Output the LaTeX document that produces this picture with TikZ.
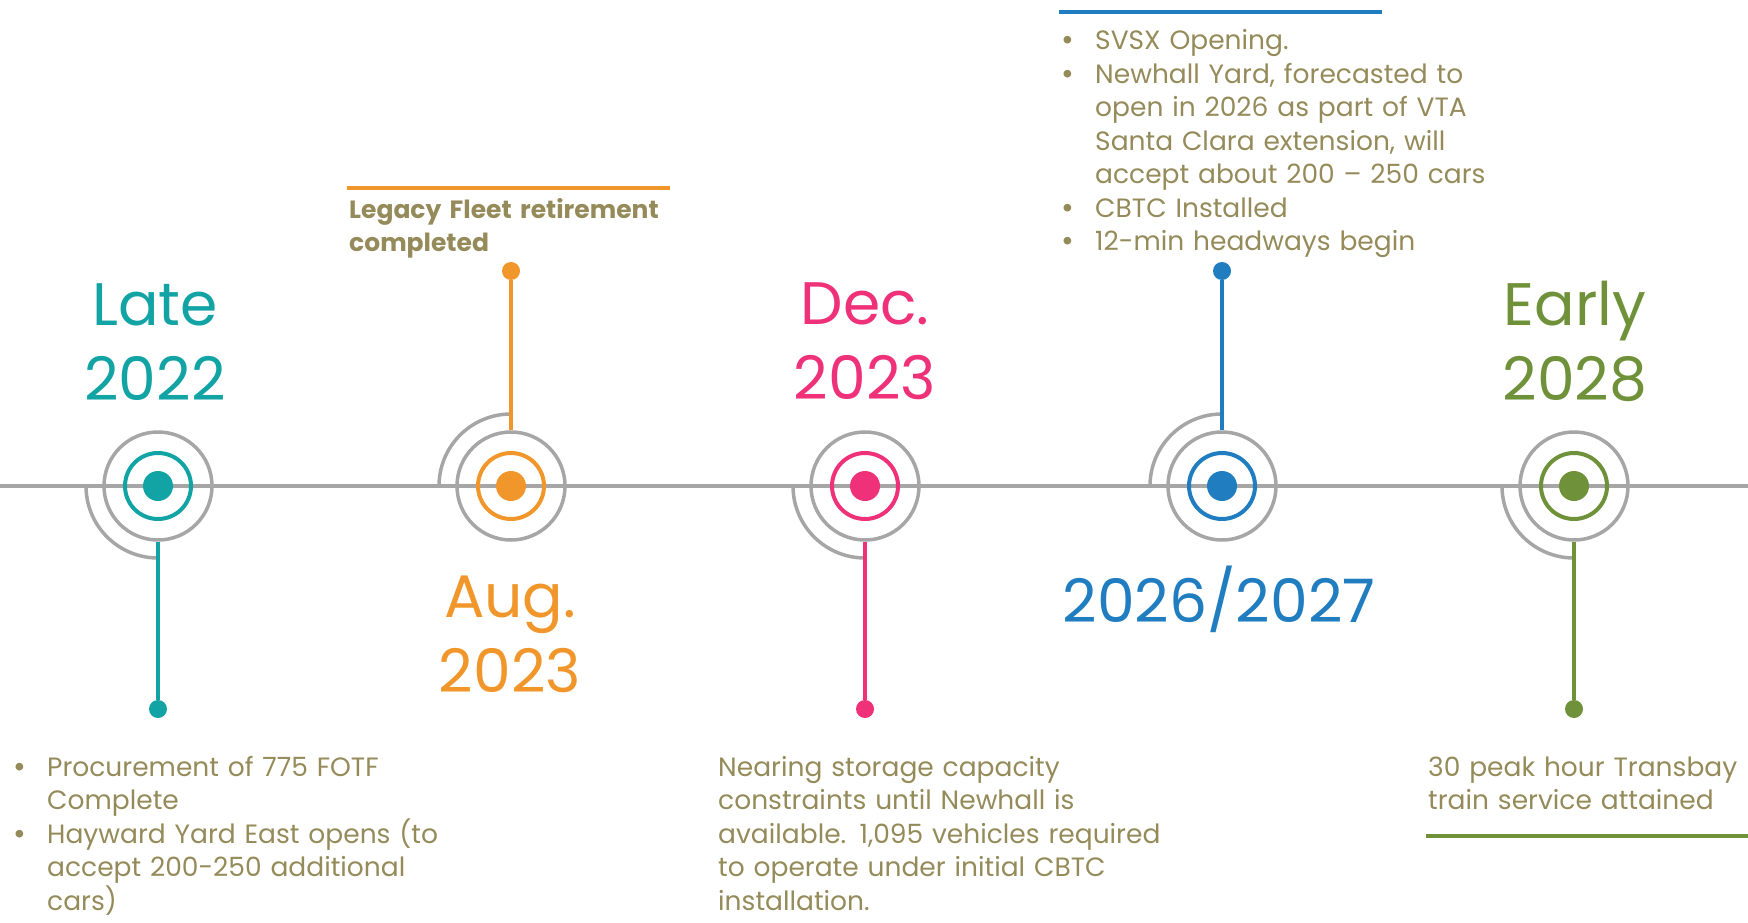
\documentclass[tikz,border=0pt]{standalone}
\usepackage{fontspec}
\setmainfont{Poppins}
\definecolor{lgray}{HTML}{A6A6A6}
\definecolor{cteal}{HTML}{12A3A4}
\definecolor{corange}{HTML}{F0962A}
\definecolor{cpink}{HTML}{EE3179}
\definecolor{cblue}{HTML}{1F7DC0}
\definecolor{cgreen}{HTML}{6F9139}
\definecolor{olive}{HTML}{958B5A}
\newcommand\bul{\makebox[34pt][l]{\raisebox{-1pt}{\fontsize{31}{31}\selectfont\textbullet}}}
\newcommand\ind{\hspace*{34pt}}
\begin{document}
\begin{tikzpicture}[x=1pt,y=-1pt,
  tline/.style={draw=lgray, line width=3.5pt},
  arcline/.style={draw=lgray, line width=3.5pt},
  cdot/.style={circle, fill=#1, minimum size=30pt, inner sep=0pt},
  cring/.style={circle, draw=#1, line width=4pt, minimum size=66pt, inner sep=0pt},
  gring/.style={circle, draw=lgray, line width=3.5pt, minimum size=108pt, inner sep=0pt},
  edot/.style={circle, fill=#1, minimum size=18pt, inner sep=0pt},
  stem/.style={draw=#1, line width=4pt},
  hbar/.style={draw=#1, line width=4pt},
  year/.style={text=#1, font=\fontsize{60}{75}\selectfont, text width=400pt, align=center, anchor=base, inner sep=0pt},
  body/.style={text=olive, font=\fontsize{26.5}{33.5}\selectfont, text width=#1, align=left, anchor=base west, inner sep=0pt},
]
\useasboundingbox (0,0) rectangle (1748,923);
% timeline
\coordinate (L) at (0,486);
\coordinate (R) at (1748,486);
\draw[tline] (L) -- (R);
% quarter arcs
\draw[arcline] (86,486) .. controls (86,525.8) and (118.2,558) .. (158,558);
\draw[arcline] (439,486) .. controls (439,446.2) and (471.2,414) .. (511,414);
\draw[arcline] (793,486) .. controls (793,525.8) and (825.2,558) .. (865,558);
\draw[arcline] (1150,486) .. controls (1150,446.2) and (1182.2,414) .. (1222,414);
\draw[arcline] (1502,486) .. controls (1502,525.8) and (1534.2,558) .. (1574,558);
% milestone 1
\node[gring] (g1) at (158,486) {};
\node[cring=cteal] (r1) at (158,486) {};
\node[cdot=cteal] (c1) at (158,486) {};
\node[edot=cteal] (e1) at (158,709) {};
\draw[stem=cteal] (g1) -- (e1);
% milestone 2
\node[gring] (g2) at (511,486) {};
\node[cring=corange] (r2) at (511,486) {};
\node[cdot=corange] (c2) at (511,486) {};
\node[edot=corange] (e2) at (511,271) {};
\draw[stem=corange] (g2) -- (e2);
% milestone 3
\node[gring] (g3) at (865,486) {};
\node[cring=cpink] (r3) at (865,486) {};
\node[cdot=cpink] (c3) at (865,486) {};
\node[edot=cpink] (e3) at (865,709) {};
\draw[stem=cpink] (g3) -- (e3);
% milestone 4
\node[gring] (g4) at (1222,486) {};
\node[cring=cblue] (r4) at (1222,486) {};
\node[cdot=cblue] (c4) at (1222,486) {};
\node[edot=cblue] (e4) at (1222,271) {};
\draw[stem=cblue] (g4) -- (e4);
% milestone 5
\node[gring] (g5) at (1574,486) {};
\node[cring=cgreen] (r5) at (1574,486) {};
\node[cdot=cgreen] (c5) at (1574,486) {};
\node[edot=cgreen] (e5) at (1574,709) {};
\draw[stem=cgreen] (g5) -- (e5);
% year labels
\node[year=cteal] (y1) at (155,325) {Late\\2022};
\node[year=corange] (y2) at (510,617) {Aug.\\2023};
\node[year=cpink] (y3) at (865,324) {Dec.\\2023};
\node[year=cblue] (y4) at (1219,622) {2026/2027};
\node[year=cgreen] (y5) at (1575,325) {Early\\2028};
% header bars
\coordinate (ob1) at (347,188); \coordinate (ob2) at (670,188);
\draw[hbar=corange] (ob1) -- (ob2);
\coordinate (bb1) at (1059,12); \coordinate (bb2) at (1382,12);
\draw[hbar=cblue] (bb1) -- (bb2);
\coordinate (gb1) at (1426,836); \coordinate (gb2) at (1748,836);
\draw[hbar=cgreen] (gb1) -- (gb2);
% texts
\node[body=440pt] (t1) at (13,776) {\bul Procurement of 775 FOTF\\ \ind Complete\\ \bul Hayward Yard East opens (to\\ \ind accept 200-250 additional\\ \ind cars)};
\node[body=340pt, font=\fontsize{25}{33.5}\selectfont\bfseries] (t2) at (349,218) {Legacy Fleet retirement\\completed};
\node[body=480pt] (t3) at (718,776) {Nearing storage capacity\\constraints until Newhall is\\available. 1,095 vehicles required\\to operate under initial CBTC\\installation.};
\node[body=440pt] (t4) at (1061,50) {\bul SVSX Opening.\\ \bul Newhall Yard, forecasted to\\ \ind open in 2026 as part of VTA\\ \ind Santa Clara extension, will\\ \ind accept about 200 -- 250 cars\\ \bul CBTC Installed\\ \bul 12-min headways begin};
\node[body=320pt] (t5) at (1428,776) {30 peak hour Transbay\\train service attained};
\end{tikzpicture}
\end{document}
